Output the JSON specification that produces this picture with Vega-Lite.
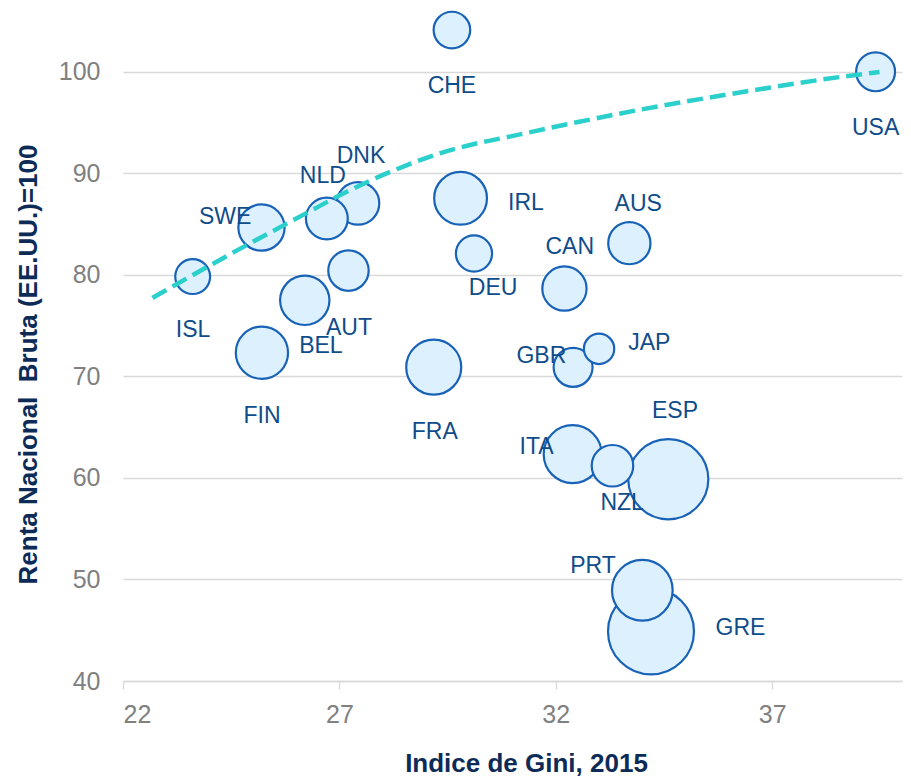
{
  "$schema": "https://vega.github.io/schema/vega-lite/v6.json",
  "width": 779,
  "height": 660,
  "autosize": "none",
  "padding": {"left": 123, "top": 21, "right": 9, "bottom": 95},
  "background": "white",
  "config": {
    "view": {"stroke": null},
    "font": "Liberation Sans",
    "text": {"font": "Liberation Sans", "fontSize": 23, "fill": "#0F4C8A", "align": "center", "baseline": "alphabetic"}
  },
  "datasets": {
    "paises": [
      {"c": "CHE", "gini": 29.60, "renta": 104.11, "u": 4.5},
      {"c": "USA", "gini": 39.39, "renta": 100.0, "u": 5.1},
      {"c": "DNK", "gini": 27.43, "renta": 87.04, "u": 6.1},
      {"c": "NLD", "gini": 26.71, "renta": 85.55, "u": 5.9},
      {"c": "SWE", "gini": 25.20, "renta": 84.66, "u": 7.2},
      {"c": "ISL", "gini": 23.61, "renta": 79.83, "u": 4.1},
      {"c": "AUT", "gini": 27.21, "renta": 80.42, "u": 5.5},
      {"c": "BEL", "gini": 26.20, "renta": 77.49, "u": 8.2},
      {"c": "FIN", "gini": 25.21, "renta": 72.33, "u": 9.2},
      {"c": "FRA", "gini": 29.18, "renta": 70.91, "u": 10.2},
      {"c": "IRL", "gini": 29.80, "renta": 87.54, "u": 9.4},
      {"c": "DEU", "gini": 30.11, "renta": 82.10, "u": 4.4},
      {"c": "CAN", "gini": 32.20, "renta": 78.65, "u": 6.6},
      {"c": "AUS", "gini": 33.70, "renta": 83.12, "u": 6.0},
      {"c": "JAP", "gini": 33.00, "renta": 72.71, "u": 3.1},
      {"c": "GBR", "gini": 32.40, "renta": 70.89, "u": 5.1},
      {"c": "ITA", "gini": 32.39, "renta": 62.34, "u": 11.3},
      {"c": "NZL", "gini": 33.31, "renta": 61.20, "u": 5.8},
      {"c": "ESP", "gini": 34.60, "renta": 59.87, "u": 21.6},
      {"c": "PRT", "gini": 34.00, "renta": 48.94, "u": 12.4},
      {"c": "GRE", "gini": 34.20, "renta": 44.88, "u": 24.9}
    ],
    "tendencia": [
      {"gini": 22.68, "renta": 77.73},
      {"gini": 24.70, "renta": 82.56},
      {"gini": 26.24, "renta": 86.08},
      {"gini": 27.01, "renta": 87.83},
      {"gini": 27.78, "renta": 89.41},
      {"gini": 28.55, "renta": 90.79},
      {"gini": 29.32, "renta": 91.97},
      {"gini": 30.19, "renta": 92.96},
      {"gini": 30.86, "renta": 93.55},
      {"gini": 32.40, "renta": 94.95},
      {"gini": 33.94, "renta": 96.26},
      {"gini": 35.48, "renta": 97.41},
      {"gini": 37.02, "renta": 98.49},
      {"gini": 38.56, "renta": 99.48},
      {"gini": 39.48, "renta": 99.97}
    ]
  },
  "data": {"name": "paises"},
  "encoding": {
    "x": {
      "field": "gini", "type": "quantitative",
      "scale": {"domain": [22, 40], "nice": false, "zero": false},
      "axis": {
        "title": "Indice de Gini, 2015",
        "values": [22, 27, 32, 37],
        "grid": false,
        "domain": true, "domainColor": "#D9D9D9", "domainWidth": 1.3,
        "ticks": true, "tickColor": "#D9D9D9", "tickSize": 8, "tickWidth": 1.3,
        "labelFont": "Liberation Sans", "labelFontSize": 25, "labelColor": "#808080", "labelPadding": 13,
        "titleFont": "Liberation Sans", "titleFontSize": 26, "titleFontWeight": "bold", "titleColor": "#0D2B57",
        "titleX": 403, "titleY": 90, "titleAlign": "center", "titleBaseline": "alphabetic"
      }
    },
    "y": {
      "field": "renta", "type": "quantitative",
      "scale": {"domain": [40, 105], "nice": false, "zero": false},
      "axis": {
        "title": "Renta Nacional\u00a0 Bruta (EE.UU.)=100",
        "values": [40, 50, 60, 70, 80, 90, 100],
        "grid": true, "gridColor": "#D9D9D9", "gridWidth": 1.3,
        "domain": false, "ticks": false,
        "labelFont": "Liberation Sans", "labelFontSize": 25, "labelColor": "#808080", "labelPadding": 23,
        "titleFont": "Liberation Sans", "titleFontSize": 26, "titleFontWeight": "bold", "titleColor": "#0D2B57",
        "titleAngle": -90, "titleX": -87, "titleY": 343, "titleAlign": "center", "titleBaseline": "alphabetic"
      }
    }
  },
  "layer": [
    {
      "mark": {"type": "circle", "fill": "#DDF0FD", "fillOpacity": 1, "stroke": "#1862B8", "strokeWidth": 2.2, "opacity": 1},
      "encoding": {
        "size": {"field": "u", "type": "quantitative", "scale": {"type": "linear", "domain": [0, 25], "range": [0, 7422], "zero": true}, "legend": null},
        "order": {"field": "u", "sort": "descending"}
      }
    },
    {
      "data": {"name": "tendencia"},
      "mark": {"type": "line", "color": "#2BCFCB", "strokeWidth": 4.5, "strokeDash": [16, 7], "strokeCap": "butt", "interpolate": "monotone"},
      "encoding": {}
    },
    {
      "encoding": {"text": {"field": "c", "type": "nominal"}},
      "layer": [
        {"transform": [{"filter": "datum.c == 'CHE'"}], "mark": {"type": "text", "dx": 0, "dy": 62.6}},
        {"transform": [{"filter": "datum.c == 'USA'"}], "mark": {"type": "text", "dx": 0, "dy": 63.5}},
        {"transform": [{"filter": "datum.c == 'DNK'"}], "mark": {"type": "text", "dx": 3, "dy": -40.6}},
        {"transform": [{"filter": "datum.c == 'NLD'"}], "mark": {"type": "text", "dx": -4, "dy": -35.2}},
        {"transform": [{"filter": "datum.c == 'SWE'"}], "mark": {"type": "text", "dx": -36.3, "dy": -3.8}},
        {"transform": [{"filter": "datum.c == 'ISL'"}], "mark": {"type": "text", "dx": 0.4, "dy": 60.7}},
        {"transform": [{"filter": "datum.c == 'AUT'"}], "mark": {"type": "text", "dx": 0.5, "dy": 64.2}},
        {"transform": [{"filter": "datum.c == 'BEL'"}], "mark": {"type": "text", "dx": 16.1, "dy": 52.7}},
        {"transform": [{"filter": "datum.c == 'FIN'"}], "mark": {"type": "text", "dx": 0.1, "dy": 70.7}},
        {"transform": [{"filter": "datum.c == 'FRA'"}], "mark": {"type": "text", "dx": 1, "dy": 72.1}},
        {"transform": [{"filter": "datum.c == 'IRL'"}], "mark": {"type": "text", "dx": 65.4, "dy": 11.4}},
        {"transform": [{"filter": "datum.c == 'DEU'"}], "mark": {"type": "text", "dx": 19.1, "dy": 41.7}},
        {"transform": [{"filter": "datum.c == 'CAN'"}], "mark": {"type": "text", "dx": 5.3, "dy": -34.3}},
        {"transform": [{"filter": "datum.c == 'AUS'"}], "mark": {"type": "text", "dx": 8.9, "dy": -31.8}},
        {"transform": [{"filter": "datum.c == 'JAP'"}], "mark": {"type": "text", "dx": 50.3, "dy": 1.2}},
        {"transform": [{"filter": "datum.c == 'GBR'"}], "mark": {"type": "text", "dx": -31.7, "dy": -4}},
        {"transform": [{"filter": "datum.c == 'ITA'"}], "mark": {"type": "text", "dx": -36, "dy": 0.3}},
        {"transform": [{"filter": "datum.c == 'NZL'"}], "mark": {"type": "text", "dx": 9.7, "dy": 44.7}},
        {"transform": [{"filter": "datum.c == 'ESP'"}], "mark": {"type": "text", "dx": 6.7, "dy": -61.6}},
        {"transform": [{"filter": "datum.c == 'PRT'"}], "mark": {"type": "text", "dx": -49.4, "dy": -17.4}},
        {"transform": [{"filter": "datum.c == 'GRE'"}], "mark": {"type": "text", "dx": 89.5, "dy": 3.7}}
      ]
    }
  ]
}
